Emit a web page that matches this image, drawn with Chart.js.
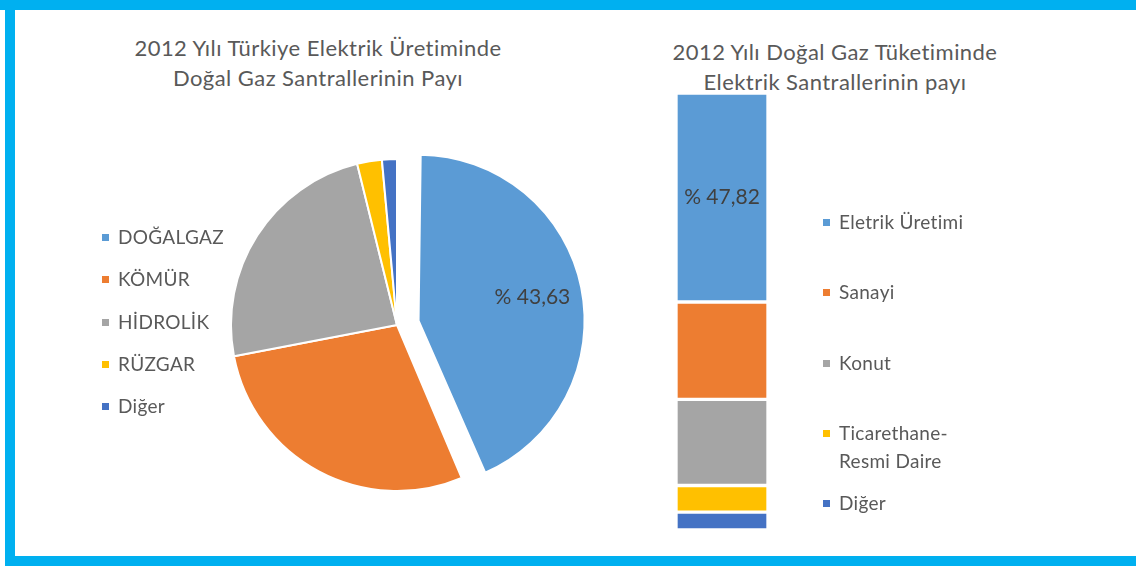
<!DOCTYPE html>
<html><head><meta charset="utf-8">
<script src="https://cdn.jsdelivr.net/npm/chart.js@4"></script>
<style>
html,body{margin:0;padding:0;background:#fff;}
#wrap{position:relative;width:1136px;height:568px;overflow:hidden;font-family:Lato,'Open Sans',sans-serif;color:#595959;}
.frame{position:absolute;background:#00B0F0;}
.title{position:absolute;text-align:center;font-size:22px;letter-spacing:0.45px;line-height:30px;white-space:nowrap;}
canvas{position:absolute;top:0;}
.leg{position:absolute;font-size:19px;letter-spacing:0.3px;line-height:28px;white-space:nowrap;}
.leg .sw{position:absolute;left:0;top:11px;width:7px;height:7px;}
.leg .tx{position:absolute;left:16px;top:0;}
</style></head>
<body>
<div id="wrap">
  <div class="frame" style="left:0;top:0;width:1136px;height:10px"></div>
  <div class="frame" style="left:5px;top:0;width:10px;height:566px"></div>
  <div class="frame" style="left:5px;top:556px;width:1131px;height:10px"></div>
  <div class="title" id="t1" style="left:118px;top:33px;width:400px"></div>
  <div class="title" id="t2" style="left:635px;top:37px;width:400px"></div>
  <canvas id="pie" width="640" height="568" style="left:0"></canvas>
  <canvas id="bar" width="496" height="568" style="left:640px"></canvas>
  <div id="leg1"></div>
  <div id="leg2"></div>
</div>
<script>
const pieTitle = ['2012 Yılı Türkiye Elektrik Üretiminde', 'Doğal Gaz Santrallerinin Payı'];
const pieLabels = ['DOĞALGAZ', 'KÖMÜR', 'HİDROLİK', 'RÜZGAR', 'Diğer'];
const pieValues = [43.63, 28.36, 24.15, 2.41, 1.45];

const barTitle = ['2012 Yılı Doğal Gaz Tüketiminde', 'Elektrik Santrallerinin payı'];
const barLabels = ['Eletrik Üretimi', 'Sanayi', 'Konut', ['Ticarethane-', 'Resmi Daire'], 'Diğer'];
const barValues = [47.82, 22.3, 19.7, 6.1, 4.08];

const colors = ['#5B9BD5', '#ED7D31', '#A5A5A5', '#FFC000', '#4472C4'];

const fmt = v => '% ' + v.toFixed(2).replace('.', ',');

document.getElementById('t1').innerHTML = pieTitle.join('<br>');
document.getElementById('t2').innerHTML = barTitle.join('<br>');

function buildLegend(id, labels, x, y0, step) {
  const box = document.getElementById(id);
  labels.forEach((lab, i) => {
    const d = document.createElement('div');
    d.className = 'leg';
    d.style.left = x + 'px';
    d.style.top = (y0 + i * step) + 'px';
    const sw = document.createElement('div');
    sw.className = 'sw';
    sw.style.background = colors[i];
    const tx = document.createElement('div');
    tx.className = 'tx';
    tx.innerHTML = (Array.isArray(lab) ? lab : [lab]).join('<br>');
    d.appendChild(sw); d.appendChild(tx);
    box.appendChild(d);
  });
}
buildLegend('leg1', pieLabels, 102, 223, 42.3);
buildLegend('leg2', barLabels, 823, 208, 70.3);

// Chart.js v4 translates an offset arc by offset/4
const pieOffset = pieValues.map((v, i) => i === 0 ? 88 : 0);

// Chart.js v4 also grows an offset arc's radius; keep the exploded slice at the same radius
const keepRadiusPlugin = {
  id: 'keepRadius',
  beforeDatasetsDraw(chart) {
    const meta = chart.getDatasetMeta(0);
    const baseR = meta.controller.outerRadius;
    meta.data.forEach((arc, i) => {
      const off = (pieOffset[i] || 0) / 4;
      const fix = 1 - Math.sin(Math.min(Math.PI, arc.circumference || 0));
      arc.outerRadius = baseR - off * fix;
    });
  }
};

const pieLabelPlugin = {
  id: 'pieLabel',
  afterDatasetsDraw(chart) {
    const ctx = chart.ctx;
    const meta = chart.getDatasetMeta(0);
    const arc = meta.data[0];
    const p = arc.getProps(['x', 'y', 'startAngle', 'endAngle'], true);
    const R = meta.controller.outerRadius;
    const mid = (p.startAngle + p.endAngle) / 2;
    const d = pieOffset[0] / 4 + 0.7 * R;
    ctx.save();
    ctx.font = '21px Lato, "Open Sans", sans-serif';
    ctx.fillStyle = '#404040';
    ctx.textAlign = 'center';
    ctx.textBaseline = 'middle';
    ctx.fillText(fmt(pieValues[0]), p.x + Math.cos(mid) * d, p.y + Math.sin(mid) * d);
    ctx.restore();
  }
};

new Chart(document.getElementById('pie'), {
  type: 'pie',
  data: {
    labels: pieLabels,
    datasets: [{
      data: pieValues,
      backgroundColor: colors,
      borderColor: '#ffffff',
      borderWidth: 2,
      hoverBorderWidth: 2,
      offset: pieOffset,
      hoverOffset: 0
    }]
  },
  options: {
    responsive: false,
    animation: false,
    devicePixelRatio: 1,
    radius: 166,
    layout: { padding: { left: 219, top: 147, right: 65, bottom: 65 } },
    plugins: { legend: { display: false }, tooltip: { enabled: false }, title: { display: false } },
    events: []
  },
  plugins: [keepRadiusPlugin, pieLabelPlugin]
});

const barLabelPlugin = {
  id: 'barLabel',
  afterDatasetsDraw(chart) {
    const ctx = chart.ctx;
    const el = chart.getDatasetMeta(0).data[0];
    const p = el.getProps(['x', 'y', 'base'], true);
    ctx.save();
    ctx.font = '21px Lato, "Open Sans", sans-serif';
    ctx.fillStyle = '#404040';
    ctx.textAlign = 'center';
    ctx.textBaseline = 'middle';
    ctx.fillText(fmt(barValues[0]), p.x, (p.y + p.base) / 2);
    ctx.restore();
  }
};

const total = barValues.reduce((a, b) => a + b, 0);

new Chart(document.getElementById('bar'), {
  type: 'bar',
  data: {
    labels: ['2012'],
    datasets: barValues.map((v, i) => ({
      label: Array.isArray(barLabels[i]) ? barLabels[i].join(' ') : barLabels[i],
      data: [v],
      backgroundColor: colors[i],
      borderColor: '#ffffff',
      borderWidth: 2,
      borderSkipped: false,
      barPercentage: 1,
      categoryPercentage: 1
    }))
  },
  options: {
    responsive: false,
    animation: false,
    devicePixelRatio: 1,
    layout: { padding: { left: 36, right: 368, top: 93, bottom: 38 } },
    scales: {
      x: { stacked: true, display: false },
      y: { stacked: true, display: false, reverse: true, min: 0, max: total }
    },
    plugins: { legend: { display: false }, tooltip: { enabled: false }, title: { display: false } },
    events: []
  },
  plugins: [barLabelPlugin]
});
</script>
</body></html>
